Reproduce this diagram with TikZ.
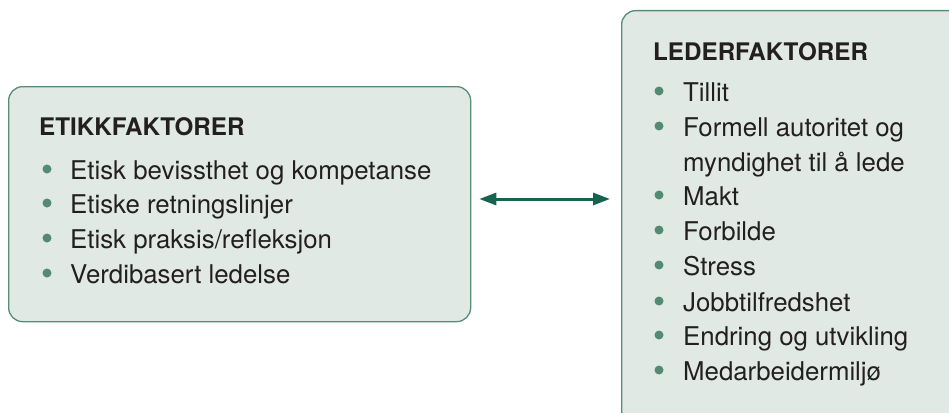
\documentclass[tikz,border=0pt]{standalone}
\usepackage{fontspec}
\setmainfont{TeX Gyre Heros}
\usetikzlibrary{arrows.meta}
\definecolor{boxfill}{RGB}{225,233,228}
\definecolor{boxline}{RGB}{88,140,120}
\definecolor{dotgreen}{RGB}{82,138,115}
\definecolor{arrowgreen}{RGB}{22,100,78}
\definecolor{ink}{RGB}{35,31,32}
\tikzset{
  panel/.style={draw=boxline, line width=1.3pt, fill=boxfill, rounded corners=14pt},
  heading/.style={anchor=base west, inner sep=0pt, text=ink, font=\fontsize{24.2}{28}\selectfont\bfseries},
  entry/.style={anchor=base west, inner sep=0pt, text=ink, font=\fontsize{25.8}{35}\selectfont},
  dot/.style={circle, fill=dotgreen, inner sep=0pt, minimum size=9pt},
  link/.style={draw=arrowgreen, line width=3pt,
    {Triangle[length=17pt,width=12pt]}-{Triangle[length=17pt,width=12pt]}}
}
\begin{document}
\begin{tikzpicture}[x=1pt,y=-1pt]
\useasboundingbox (0,0) rectangle (949,412);
\clip (0,0) rectangle (949,412);
\fill[white] (0,0) rectangle (949,412);

% left panel: ethics factors
\node[panel, anchor=north west, minimum width=462pt, minimum height=235pt] (etikk) at (8,86) {};
\node[heading] (etikkhead) at (39,135) {ETIKKFAKTORER};
\foreach \i/\yy/\txt in {1/179/{Etisk bevissthet og kompetanse},
                         2/213/{Etiske retningslinjer},
                         3/248/{Etisk praksis/refleksjon},
                         4/283/{Verdibasert ledelse}}{
  \node[dot] (edot\i) at (47,\yy-10) {};
  \node[entry] (etxt\i) at (70,\yy) {\txt};
}

% right panel: leadership factors (runs past the page edge)
\node[panel, anchor=north west, minimum width=345pt, minimum height=414pt] (leder) at (621,10) {};
\node[heading] (lederhead) at (653,60) {LEDERFAKTORER};
\foreach \i/\yy/\txt in {1/101/{Tillit},
                         2/136/{Formell autoritet og},
                         4/205/{Makt},
                         5/240/{Forbilde},
                         6/275/{Stress},
                         7/311/{Jobbtilfredshet},
                         8/345/{Endring og utvikling},
                         9/380/{Medarbeidermiljø}}{
  \node[dot] (ldot\i) at (659,\yy-10) {};
  \node[entry] (ltxt\i) at (683,\yy) {\txt};
}
\node[entry] (ltxt3) at (683,171) {myndighet til å lede};

% two-way relation between the panels
\coordinate (linkL) at ([xshift=8pt]etikk.east |- 0,199);
\coordinate (linkR) at ([xshift=-11pt]leder.west |- 0,199);
\draw[link] (linkL) -- (linkR);
\end{tikzpicture}
\end{document}
